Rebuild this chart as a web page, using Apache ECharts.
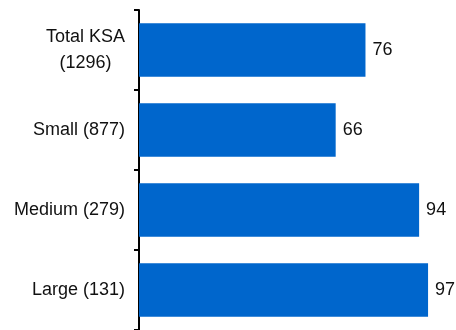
<!DOCTYPE html>
<html>
<head>
<meta charset="utf-8">
<script src="https://cdn.jsdelivr.net/npm/echarts@6/dist/echarts.min.js"></script>
<style>
html,body{margin:0;padding:0;background:#fff;}
#c{width:456px;height:330px;}
</style>
</head>
<body>
<div id="c"></div>
<script>
const categories = ['Total KSA\n(1296)', 'Small (877)', 'Medium (279)', 'Large (131)'];
const values = [76, 66, 94, 97];

const chart = echarts.init(document.getElementById('c'), null, {renderer: 'canvas'});
const font = '"Liberation Sans", Arial, sans-serif';
chart.setOption({
  animation: false,
  grid: {left: 139, width: 298, top: 10, bottom: -1, containLabel: false},
  xAxis: {
    type: 'value', min: 0, max: 100, show: false
  },
  yAxis: {
    type: 'category',
    data: categories,
    inverse: true,
    axisLine: {show: true, lineStyle: {color: '#000', width: 2}},
    axisTick: {show: true, length: 5, lineStyle: {color: '#000', width: 2}},
    axisLabel: {
      margin: 14,
      color: '#111',
      fontFamily: font,
      fontSize: 18,
      lineHeight: 26,
      formatter: function (v) {
        return v.split('\n').map(function (s) { return '{a|' + s + '}'; }).join('\n');
      },
      rich: {a: {align: 'center', fontFamily: font, fontSize: 18, color: '#111', lineHeight: 26}}
    },
    splitLine: {show: false}
  },
  series: [{
    type: 'bar',
    data: values,
    barCategoryGap: '33%',
    itemStyle: {color: '#0066CC'},
    label: {
      show: true, position: 'right', distance: 7,
      color: '#111', fontFamily: font, fontSize: 18
    }
  }]
});
</script>
</body>
</html>
